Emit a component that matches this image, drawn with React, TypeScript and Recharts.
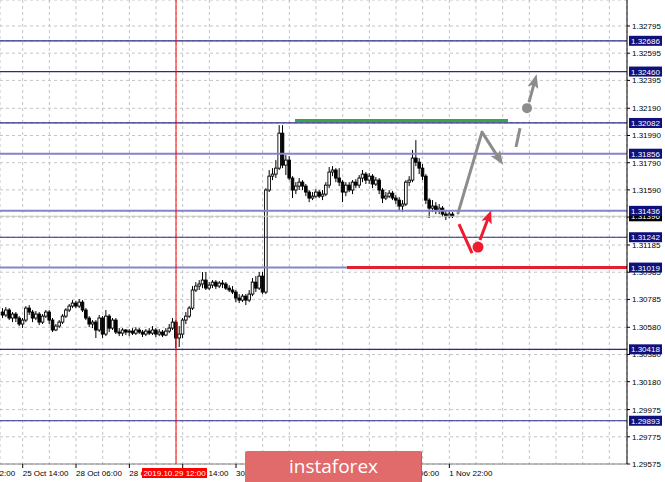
import React from 'react';
import {
  ComposedChart,
  Bar,
  XAxis,
  YAxis,
  CartesianGrid,
  ReferenceLine,
  ReferenceDot,
} from 'recharts';

// H1 candles, one per hour, [open, high, low, close]
const candles: [number, number, number, number][] = [
  [1.30692, 1.30721, 1.30648, 1.3067], [1.3067, 1.30729, 1.30655, 1.30707], [1.30707, 1.30721, 1.30633, 1.30648], [1.30648, 1.30692, 1.30618, 1.30677],
  [1.30677, 1.30692, 1.30618, 1.30648], [1.30648, 1.30662, 1.30589, 1.30604], [1.30604, 1.30648, 1.30574, 1.30633], [1.30633, 1.30736, 1.30618, 1.30721],
  [1.30721, 1.30743, 1.3067, 1.30692], [1.30692, 1.30707, 1.30618, 1.30648], [1.30648, 1.30699, 1.30633, 1.30677], [1.30677, 1.30692, 1.30596, 1.30618],
  [1.30618, 1.30677, 1.30604, 1.30662], [1.30662, 1.30707, 1.30648, 1.30692], [1.30692, 1.30707, 1.30604, 1.30633], [1.30633, 1.30648, 1.30545, 1.3056],
  [1.3056, 1.30604, 1.30552, 1.30589], [1.30589, 1.30633, 1.30574, 1.30618], [1.30618, 1.30677, 1.30604, 1.30662], [1.30662, 1.30721, 1.30648, 1.30707],
  [1.30707, 1.30751, 1.30692, 1.30736], [1.30736, 1.3078, 1.30721, 1.30758], [1.30758, 1.30773, 1.30721, 1.30736], [1.30736, 1.30787, 1.30721, 1.30765],
  [1.30765, 1.3078, 1.30692, 1.30707], [1.30707, 1.30721, 1.30633, 1.30648], [1.30648, 1.30662, 1.30581, 1.30604], [1.30604, 1.30633, 1.30574, 1.30618],
  [1.30618, 1.30633, 1.30501, 1.3056], [1.3056, 1.3067, 1.30545, 1.30648], [1.30648, 1.30662, 1.30501, 1.3053], [1.3053, 1.30707, 1.30515, 1.30662],
  [1.30662, 1.30677, 1.30545, 1.30574], [1.30574, 1.30648, 1.3056, 1.30633], [1.30633, 1.30648, 1.3053, 1.30545], [1.30545, 1.30574, 1.30515, 1.30537],
  [1.30537, 1.30574, 1.30515, 1.3056], [1.3056, 1.30567, 1.30523, 1.30545], [1.30545, 1.30567, 1.30515, 1.30552], [1.30552, 1.30574, 1.30523, 1.30537],
  [1.30537, 1.30581, 1.30523, 1.3056], [1.3056, 1.30574, 1.3053, 1.30545], [1.30545, 1.3056, 1.30508, 1.3053], [1.3053, 1.30567, 1.30515, 1.30552],
  [1.30552, 1.30574, 1.30523, 1.30537], [1.30537, 1.30589, 1.30523, 1.3056], [1.3056, 1.30574, 1.30508, 1.3053], [1.3053, 1.30567, 1.30515, 1.30545],
  [1.30545, 1.3056, 1.30508, 1.30523], [1.30523, 1.30574, 1.30515, 1.30552], [1.30552, 1.30604, 1.30537, 1.30574], [1.30574, 1.30648, 1.3056, 1.30618],
  [1.30618, 1.30633, 1.30427, 1.30501], [1.30501, 1.30589, 1.30435, 1.3053], [1.3053, 1.30648, 1.30501, 1.30633], [1.30633, 1.30692, 1.30604, 1.30662],
  [1.30662, 1.30736, 1.30648, 1.30721], [1.30721, 1.30883, 1.30707, 1.30854], [1.30854, 1.30912, 1.30839, 1.30883], [1.30883, 1.30927, 1.30854, 1.30898],
  [1.30898, 1.30986, 1.30868, 1.30927], [1.30927, 1.30986, 1.30854, 1.30868], [1.30868, 1.30912, 1.30854, 1.3089], [1.3089, 1.30927, 1.30868, 1.30912],
  [1.30912, 1.30927, 1.30861, 1.30883], [1.30883, 1.3092, 1.30868, 1.30905], [1.30905, 1.30927, 1.30868, 1.30898], [1.30898, 1.30912, 1.30854, 1.30868],
  [1.30868, 1.3089, 1.30839, 1.30854], [1.30854, 1.30883, 1.30824, 1.30839], [1.30839, 1.30854, 1.30765, 1.30795], [1.30795, 1.30824, 1.30758, 1.3078],
  [1.3078, 1.30824, 1.30765, 1.30809], [1.30809, 1.30824, 1.30743, 1.3078], [1.3078, 1.30854, 1.30765, 1.30824], [1.30824, 1.30942, 1.30809, 1.30912],
  [1.30912, 1.30956, 1.30839, 1.30868], [1.30868, 1.30986, 1.30854, 1.30956], [1.30956, 1.30986, 1.30824, 1.30839], [1.30839, 1.31603, 1.30824, 1.31589],
  [1.31589, 1.31736, 1.31574, 1.31691], [1.31691, 1.3175, 1.31662, 1.31706], [1.31706, 1.31809, 1.31677, 1.3175], [1.3175, 1.32066, 1.31736, 1.32007],
  [1.32007, 1.32066, 1.3175, 1.31772], [1.31772, 1.31846, 1.31699, 1.31809], [1.31809, 1.31838, 1.31662, 1.31677], [1.31677, 1.31691, 1.3153, 1.31589],
  [1.31589, 1.31647, 1.31559, 1.31618], [1.31618, 1.31677, 1.31589, 1.31647], [1.31647, 1.31662, 1.31589, 1.31618], [1.31618, 1.31633, 1.31544, 1.31574],
  [1.31574, 1.31589, 1.315, 1.3153], [1.3153, 1.31574, 1.31515, 1.31544], [1.31544, 1.31596, 1.3153, 1.31574], [1.31574, 1.31589, 1.3153, 1.31544],
  [1.31544, 1.31589, 1.31515, 1.31559], [1.31559, 1.31647, 1.31544, 1.31625], [1.31625, 1.31758, 1.31603, 1.31721], [1.31721, 1.31765, 1.31691, 1.31736],
  [1.31736, 1.3175, 1.31647, 1.31677], [1.31677, 1.3175, 1.31618, 1.31647], [1.31647, 1.31662, 1.315, 1.31574], [1.31574, 1.31647, 1.31544, 1.31625],
  [1.31625, 1.31647, 1.31574, 1.31589], [1.31589, 1.31662, 1.31559, 1.31647], [1.31647, 1.31669, 1.31603, 1.31625], [1.31625, 1.31699, 1.31603, 1.31677],
  [1.31677, 1.31736, 1.31647, 1.31706], [1.31706, 1.31721, 1.31633, 1.31662], [1.31662, 1.31713, 1.31633, 1.31691], [1.31691, 1.31706, 1.31603, 1.31633],
  [1.31633, 1.31684, 1.31618, 1.31662], [1.31662, 1.31677, 1.31559, 1.31589], [1.31589, 1.31603, 1.31493, 1.3153], [1.3153, 1.31574, 1.31515, 1.31544],
  [1.31544, 1.31589, 1.3153, 1.31566], [1.31566, 1.31581, 1.31515, 1.3153], [1.3153, 1.31552, 1.31486, 1.31515], [1.31515, 1.31537, 1.31442, 1.31471],
  [1.31471, 1.31515, 1.31427, 1.31486], [1.31486, 1.31662, 1.31471, 1.31647], [1.31647, 1.31691, 1.31618, 1.31662], [1.31662, 1.31883, 1.31647, 1.31824],
  [1.31824, 1.31956, 1.31765, 1.31794], [1.31794, 1.31824, 1.31706, 1.3175], [1.3175, 1.3178, 1.31662, 1.31691], [1.31691, 1.31706, 1.31486, 1.31515],
  [1.31515, 1.3153, 1.31383, 1.31456], [1.31456, 1.31515, 1.31427, 1.31471], [1.31471, 1.315, 1.31412, 1.31442], [1.31442, 1.31486, 1.31412, 1.31456],
  [1.31456, 1.31471, 1.3139, 1.31412], [1.31412, 1.31442, 1.31368, 1.31398], [1.31398, 1.31434, 1.31383, 1.31412], [1.31412, 1.31427, 1.31383, 1.31396],
];

const priceTicks = [
  1.32795, 1.32595, 1.32395, 1.3219, 1.3199, 1.3179, 1.3159, 1.3139, 1.31185,
  1.30985, 1.30785, 1.3058, 1.3038, 1.3018, 1.29975, 1.29775, 1.29575,
];
const strongLevels = [1.32686, 1.3246, 1.32082, 1.31242, 1.30418, 1.29893];
const softLevels = [1.31856, 1.31436, 1.31019];
const bidPrice = 1.31396;

// hours counted from the first candle
const timeTicks = [
  -10, -2, 6, 14, 22, 30, 38, 46, 54, 62, 70, 78, 86, 94, 102, 110, 118, 126,
  134, 142, 150, 158, 166, 174, 182,
];
const timeLabels: Record<number, string> = {
  [-10]: '24 Oct 22:00',
  6: '25 Oct 14:00',
  22: '28 Oct 06:00',
  38: '28 Oct 22:00',
  54: '29 Oct 14:00',
  70: '30 Oct 06:00',
  86: '30 Oct 22:00',
  102: '31 Oct 14:00',
  118: '1 Nov 06:00',
  134: '1 Nov 22:00',
};
const markerHour = 52;
const markerLabel = '2019.10.29 12:00';

const greenSegment = [{ x: 87.7, y: 1.321 }, { x: 151.6, y: 1.321 }];
const redSegment = [{ x: 103.3, y: 1.31019 }, { x: 187.3, y: 1.31019 }];

// forecast arrows (hour, price)
const upPath = [{ t: 136.6, p: 1.31419 }, { t: 143.8, p: 1.32015 }, { t: 149.3, p: 1.31805 }];
const upTail = [{ t: 154.0, p: 1.31905 }, { t: 155.2, p: 1.32044 }];
const upDot = { t: 157.3, p: 1.32191 };
const upArrow = [{ t: 157.9, p: 1.32235 }, { t: 159.8, p: 1.32405 }];
const downTail = [{ t: 136.9, p: 1.31339 }, { t: 140.8, p: 1.31125 }];
const downDot = { t: 142.6, p: 1.3117 };
const downArrow = [{ t: 143.2, p: 1.31221 }, { t: 146.0, p: 1.31405 }];

const data = candles.map(([open, high, low, close], i) => ({ t: i, open, high, low, close }));

const FONT = '"Liberation Sans", Arial, sans-serif';
const GRAY = '#8c8c8c';
const RED = '#ee1c2e';

const seg = (a: { t: number; p: number }, b: { t: number; p: number }) => [
  { x: a.t, y: a.p },
  { x: b.t, y: b.p },
];

function Candle(props: any) {
  const { x, y, width, height, payload } = props;
  if (!payload) return null;
  const top = Math.min(y, y + height);
  const bottom = Math.max(y, y + height);
  const { open, high, low, close } = payload;
  const span = high - low || 1e-9;
  const py = (v: number) => top + ((high - v) / span) * (bottom - top);
  const cx = x + width / 2;
  const yo = py(open);
  const yc = py(close);
  const bull = close >= open;
  return (
    <g>
      <line x1={cx} x2={cx} y1={top} y2={bottom} stroke="#000" strokeWidth={1} />
      <rect
        x={cx - 1.3}
        y={Math.min(yo, yc)}
        width={2.6}
        height={Math.max(Math.abs(yc - yo), 0.8)}
        fill={bull ? '#fff' : '#000'}
        stroke="#000"
        strokeWidth={0.9}
      />
    </g>
  );
}

function PriceTick(props: any) {
  const { x, y, payload } = props;
  const v = payload.value;
  const isLevel = strongLevels.includes(v) || softLevels.includes(v);
  const isBid = v === bidPrice;
  if (isLevel || isBid) {
    return (
      <g>
        <rect x={x + 2} y={y - 5} width={33} height={10} fill={isBid ? '#000' : '#10107a'} />
        <text x={x + 4} y={y + 3} fontSize={8} fontFamily={FONT} fill="#fff">
          {v.toFixed(5)}
        </text>
      </g>
    );
  }
  return (
    <g>
      <line x1={x} x2={x + 3} y1={y} y2={y} stroke="#000" />
      <text x={x + 5} y={y + 3} fontSize={8} fontFamily={FONT} fill="#000">
        {v.toFixed(5)}
      </text>
    </g>
  );
}

function TimeTick(props: any) {
  const { x, y, payload } = props;
  const v = payload.value;
  if (v === markerHour) {
    return (
      <g>
        <rect x={x - 34} y={y + 4} width={65} height={10} fill="#ff0000" />
        <text x={x - 1.5} y={y + 12} fontSize={8} fontFamily={FONT} fill="#fff" textAnchor="middle">
          {markerLabel}
        </text>
      </g>
    );
  }
  const label = timeLabels[v];
  if (!label) return <g />;
  return (
    <g>
      <line x1={x} x2={x} y1={y} y2={y + 4} stroke="#000" />
      <text x={x} y={y + 12} fontSize={8} fontFamily={FONT} fill="#000">
        {label}
      </text>
    </g>
  );
}

export default function App() {
  const yTicks = [...priceTicks, bidPrice, ...softLevels, ...strongLevels];
  const xTicks = [...timeTicks, markerHour];
  return (
    <div style={{ position: 'absolute', left: 0, top: 0, width: 665, height: 482, overflow: 'hidden', background: '#fff' }}>
      <ComposedChart width={665} height={482} data={data} margin={{ top: 0, right: 0, bottom: 0, left: 0 }}>
        <defs>
          <marker id="arrowGray" viewBox="0 0 14 11" refX="9" refY="5.5" markerWidth="14" markerHeight="11" markerUnits="userSpaceOnUse" orient="auto">
            <path d="M0,0 L14,5.5 L0,11 L3,5.5 z" fill={GRAY} />
          </marker>
          <marker id="arrowRed" viewBox="0 0 13 11" refX="8" refY="5.5" markerWidth="13" markerHeight="11" markerUnits="userSpaceOnUse" orient="auto">
            <path d="M0,0 L13,5.5 L0,11 L3,5.5 z" fill={RED} />
          </marker>
        </defs>
        <CartesianGrid stroke="#c4c4c4" strokeDasharray="3 3" />
        <XAxis
          dataKey="t"
          type="number"
          domain={[-0.81, 187.3]}
          allowDataOverflow
          ticks={xTicks}
          interval={0}
          tickLine={false}
          tickSize={0}
          tickMargin={0}
          height={18}
          axisLine={{ stroke: '#808080' }}
          tick={<TimeTick />}
        />
        <YAxis
          orientation="right"
          type="number"
          domain={[1.29575, 1.32986]}
          allowDataOverflow
          ticks={yTicks}
          interval={0}
          tickLine={false}
          tickSize={0}
          tickMargin={0}
          width={38}
          axisLine={{ stroke: '#000' }}
          tick={<PriceTick />}
        />
        <ReferenceLine y={bidPrice} stroke="#c8c8c8" strokeWidth={1} />
        {softLevels.map((v) => (
          <ReferenceLine key={v} y={v} stroke="#8585cc" strokeWidth={2} />
        ))}
        {strongLevels.map((v) => (
          <ReferenceLine key={v} y={v} stroke="#2a2a8a" strokeWidth={1.2} />
        ))}
        <ReferenceLine x={markerHour} stroke="#ff0000" strokeWidth={1} />
        <ReferenceLine segment={greenSegment} stroke="#34a846" strokeWidth={3} />
        <ReferenceLine segment={redSegment} stroke="#e3202e" strokeWidth={3} />
        <Bar dataKey={(d: any) => [d.low, d.high]} barSize={3} shape={<Candle />} isAnimationActive={false} />
        <ReferenceLine segment={seg(upPath[0], upPath[1])} stroke={GRAY} strokeWidth={3} strokeLinecap="round" />
        <ReferenceLine segment={seg(upPath[1], upPath[2])} stroke={GRAY} strokeWidth={3} markerEnd="url(#arrowGray)" />
        <ReferenceLine segment={seg(upTail[0], upTail[1])} stroke={GRAY} strokeWidth={3} />
        <ReferenceDot x={upDot.t} y={upDot.p} r={5} fill={GRAY} stroke="none" />
        <ReferenceLine segment={seg(upArrow[0], upArrow[1])} stroke={GRAY} strokeWidth={3} markerEnd="url(#arrowGray)" />
        <ReferenceLine segment={seg(downTail[0], downTail[1])} stroke={RED} strokeWidth={3} />
        <ReferenceDot x={downDot.t} y={downDot.p} r={5.5} fill={RED} stroke="none" />
        <ReferenceLine segment={seg(downArrow[0], downArrow[1])} stroke={RED} strokeWidth={3} markerEnd="url(#arrowRed)" />
      </ComposedChart>
      <div
        style={{
          position: 'absolute',
          left: 245,
          top: 451,
          width: 177,
          height: 33,
          background: '#e16a6a',
          borderRadius: 2,
          boxShadow: 'inset -1px -1px 0 #c85555',
          color: '#fff',
          fontFamily: '"Open Sans", sans-serif',
          fontSize: 19,
          lineHeight: '31px',
          textAlign: 'center',
        }}
      >
        instaforex
      </div>
    </div>
  );
}
